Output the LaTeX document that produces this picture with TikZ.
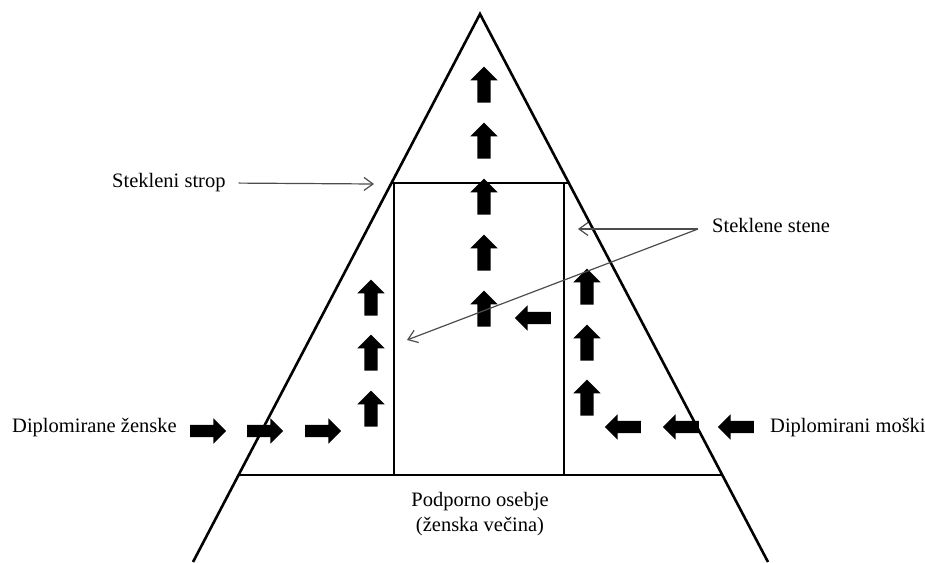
\documentclass[tikz,border=0pt]{standalone}
\usepackage{fontspec}
\setmainfont{Liberation Serif}
\usetikzlibrary{shapes.arrows,arrows.meta,calc}

\tikzset{
  wall/.style={line width=2.6pt},
  blockarrow/.style={single arrow, fill=black, draw=none,
    inner xsep=0pt, inner ysep=6.5pt,
    minimum height=36pt, minimum width=27pt,
    single arrow head extend=7pt, single arrow head indent=0pt},
  upblock/.style={blockarrow, rotate=90},
  leftblock/.style={blockarrow, rotate=180, inner ysep=6pt,
    minimum width=25pt, single arrow head extend=6.5pt},
  rightblock/.style={blockarrow, inner ysep=6pt,
    minimum width=25pt, single arrow head extend=6.5pt},
  txt/.style={font=\fontsize{20.5}{25}\selectfont, inner sep=0pt},
  pointer/.style={draw=black!70, line width=1.2pt,
    -{Straight Barb[length=9pt,width=13pt]}}
}

\begin{document}
\begin{tikzpicture}[x=1pt,y=-1pt]
  \useasboundingbox (0,0) rectangle (925,562);

  % Corners of the pyramid
  \coordinate (apex) at (480,14);
  \coordinate (bl) at (193,562);
  \coordinate (br) at (768,562);
  \coordinate (ceilL) at ($(apex)!0.3084!(bl)$);
  \coordinate (ceilR) at ($(apex)!0.3084!(br)$);
  \coordinate (baseL) at ($(apex)!0.8412!(bl)$);
  \coordinate (baseR) at ($(apex)!0.8412!(br)$);

  % Block arrows going up and sideways
  \foreach \y [count=\i] in {88,144,200,256,312}
    \node[upblock] (mid\i) at (484,\y) {};
  \foreach \y [count=\i] in {301,356,412}
    \node[upblock] (lft\i) at (371,\y) {};
  \foreach \y [count=\i] in {290,346,401}
    \node[upblock] (rgt\i) at (587,\y) {};
  \foreach \x [count=\i] in {205,262,320}
    \node[rightblock] (fem\i) at (\x,431) {};
  \foreach \x [count=\i] in {626,684,739}
    \node[leftblock] (male\i) at (\x,427) {};
  \node[leftblock] (inner) at (536,318) {};

  % Pyramid, ceiling and floor
  \draw[wall] (bl) -- (apex) -- (br);
  \draw[wall] (ceilL) -- (ceilR);
  \draw[wall] (baseL) -- (baseR);
  % Support staff box
  \draw[wall] (394,183) rectangle (564,475);

  % Labels
  \node[txt, anchor=west] (women) at (12,428) {Diplomirane ženske};
  \node[txt, anchor=west] (men) at (770,428) {Diplomirani moški};
  \node[txt, anchor=west] (ceiling) at (112,183) {Stekleni strop};
  \node[txt, anchor=west] (walls) at (712,225) {Steklene stene};
  \node[txt, align=center] (staff) at (480,514) {Podporno osebje\\(ženska večina)};

  % Pointers to the glass
  \coordinate (ceilhit) at (374,184);
  \coordinate (fork) at (698,229);
  \coordinate (wallR) at (578,229);
  \coordinate (wallL) at (407,340);
  \draw[pointer, shorten <=13pt] (ceiling.east) -- (ceilhit);
  \draw[pointer] (fork) -- (wallR);
  \draw[pointer] (fork) -- (wallL);
\end{tikzpicture}
\end{document}
